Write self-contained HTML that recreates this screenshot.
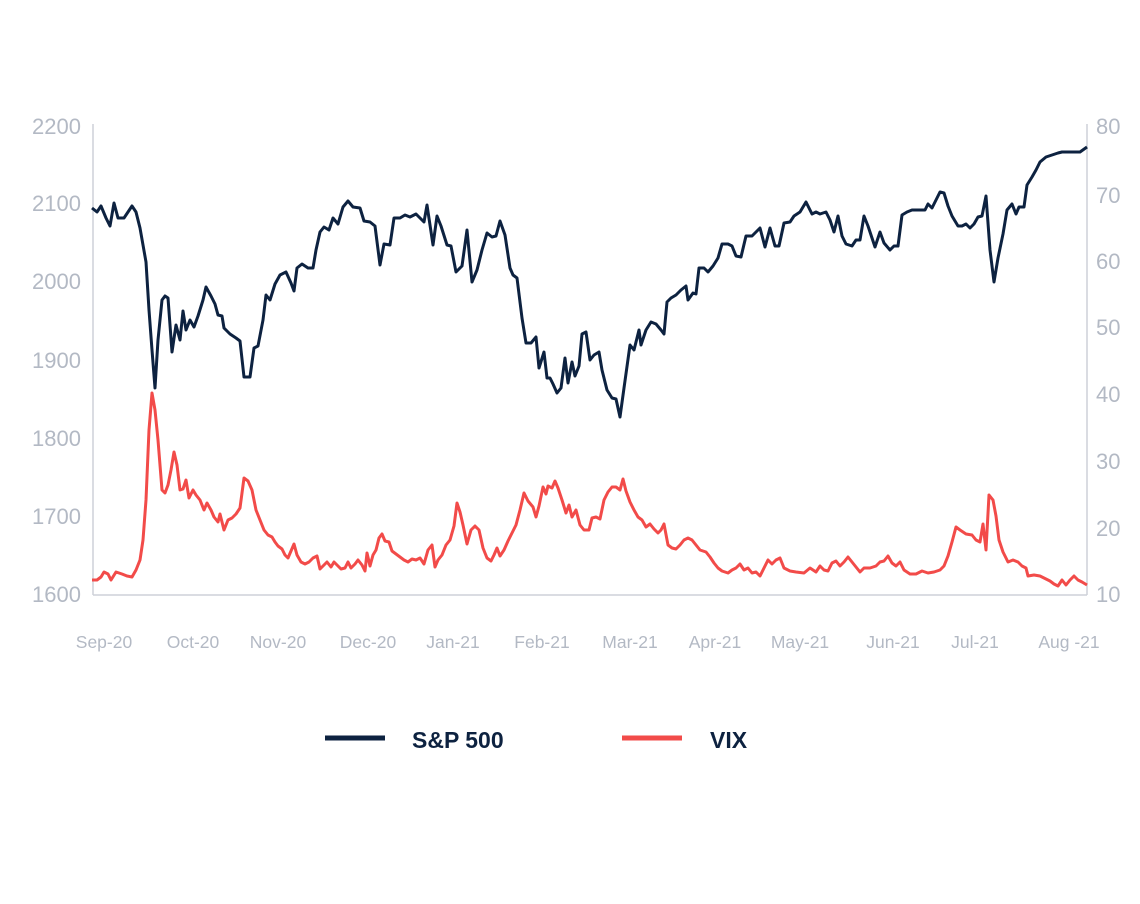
<!DOCTYPE html>
<html><head><meta charset="utf-8"><style>
html,body{margin:0;padding:0;background:#fff;}
svg{display:block;}
text{font-family:"Liberation Sans",sans-serif;fill:#b3b9c4;}
</style></head><body>
<svg width="1140" height="904" viewBox="0 0 1140 904" xmlns="http://www.w3.org/2000/svg">
<rect width="1140" height="904" fill="#fff"/>
<g stroke="#cdd1d8" stroke-width="1.5" fill="none">
<line x1="93" y1="124" x2="93" y2="595"/>
<line x1="93" y1="595" x2="1087" y2="595"/>
<line x1="1087" y1="124" x2="1087" y2="595"/>
</g>
<g font-size="22" text-anchor="end">
<text x="81" y="134">2200</text><text x="81" y="211">2100</text><text x="81" y="289">2000</text>
<text x="81" y="368">1900</text><text x="81" y="446">1800</text><text x="81" y="524">1700</text><text x="81" y="602">1600</text>
</g>
<g font-size="22" text-anchor="start">
<text x="1096" y="134">80</text><text x="1096" y="203">70</text><text x="1096" y="269">60</text><text x="1096" y="335">50</text>
<text x="1096" y="402">40</text><text x="1096" y="469">30</text><text x="1096" y="536">20</text><text x="1096" y="602">10</text>
</g>
<g font-size="17.5" text-anchor="middle">
<text x="104" y="648">Sep-20</text><text x="193" y="648">Oct-20</text><text x="278" y="648">Nov-20</text>
<text x="368" y="648">Dec-20</text><text x="453" y="648">Jan-21</text><text x="542" y="648">Feb-21</text>
<text x="630" y="648">Mar-21</text><text x="715" y="648">Apr-21</text><text x="800" y="648">May-21</text>
<text x="893" y="648">Jun-21</text><text x="975" y="648">Jul-21</text><text x="1069" y="648">Aug -21</text>
</g>
<polyline fill="none" stroke="#f24b49" stroke-width="3" stroke-linejoin="round" points="92,580 97,580 101,577 104,572 108,574 111,580 116,572 122,574 127,576 132,577 136,570 140,560 143,540 146,500 149,430 152,393 155,410 158,440 162,490 165,493 168,485 171,470 174,452 177,465 180,490 183,489 186,480 189,498 193,490 196,495 200,500 204,510 207,503 211,510 214,517 218,522 220,514 224,530 228,520 232,518 236,514 240,508 244,478 248,481 252,490 256,510 260,520 264,530 268,535 272,537 275,542 278,546 282,549 285,555 288,558 291,551 294,544 297,555 301,562 305,564 309,562 313,558 317,556 320,569 323,566 327,562 331,567 334,562 338,566 341,569 345,568 348,562 351,568 355,564 358,560 362,565 365,571 367,553 370,566 373,555 376,550 379,538 382,534 385,541 389,542 392,551 396,554 400,557 404,560 408,562 412,559 416,560 420,558 424,564 428,550 432,545 435,567 438,560 442,555 446,545 450,540 454,526 457,503 460,512 463,525 467,544 471,530 475,526 479,530 483,548 487,558 491,561 494,555 497,548 500,556 504,550 508,541 512,533 516,525 520,510 524,493 528,501 533,507 536,517 539,506 543,487 546,494 548,486 552,488 555,481 558,488 562,500 566,513 569,505 572,517 576,510 580,525 584,530 589,530 592,518 596,517 600,519 604,500 608,492 612,487 616,487 620,490 623,479 626,491 630,502 634,510 638,517 642,520 646,527 650,524 654,529 658,533 661,530 664,524 668,545 672,548 676,549 680,545 684,540 688,538 692,540 696,545 700,550 706,552 710,557 714,563 718,568 722,571 728,573 732,570 736,568 740,564 744,570 748,568 752,573 756,572 760,576 764,568 768,560 772,564 776,560 780,558 784,568 790,571 796,572 804,573 810,568 816,572 820,566 824,570 828,571 832,563 836,561 840,566 844,562 848,557 852,562 856,567 860,572 864,568 870,568 876,566 880,562 884,561 888,556 892,563 896,566 900,562 904,570 910,574 916,574 922,571 928,573 934,572 940,570 944,566 948,556 952,542 956,527 960,530 966,534 972,535 976,540 980,542 983,524 986,550 989,495 993,500 996,516 999,540 1003,552 1008,562 1013,560 1018,562 1022,566 1026,568 1028,576 1034,575 1040,576 1046,579 1050,581 1054,584 1058,586 1062,580 1066,585 1070,580 1074,576 1078,580 1082,582 1087,585"/>
<polyline fill="none" stroke="#0d2240" stroke-width="3" stroke-linejoin="round" points="92,208 97,212 101,206 106,218 110,226 114,203 118,218 124,218 128,212 132,206 136,212 140,228 143,245 146,262 149,310 152,350 155,388 158,340 162,300 165,296 168,298 172,352 176,325 180,340 183,311 186,330 190,320 194,327 198,316 203,300 206,287 211,296 215,304 218,315 222,316 224,328 230,334 236,338 240,341 244,377 250,377 254,348 258,346 263,320 266,295 270,300 275,284 280,275 286,272 291,283 294,291 297,268 302,264 308,268 313,268 316,250 320,232 324,227 329,230 333,218 338,224 343,207 348,201 353,207 360,208 364,221 370,222 375,226 380,265 384,244 390,245 394,218 400,218 405,215 410,217 416,214 420,218 424,222 427,205 433,245 437,216 441,226 447,245 451,246 456,272 462,266 467,230 472,282 477,270 482,250 487,233 492,237 496,236 500,221 505,235 510,268 513,275 517,278 522,318 526,343 531,343 536,337 539,368 544,352 547,378 550,378 553,384 557,393 561,388 565,358 568,383 572,362 575,376 579,366 582,334 586,332 590,360 594,355 599,352 602,370 607,390 612,398 616,399 620,417 624,388 630,345 634,350 639,330 641,345 646,330 651,322 656,324 661,330 664,334 667,302 671,298 676,295 681,290 686,286 688,300 693,293 696,294 699,268 704,268 708,272 713,266 718,258 722,244 728,244 732,246 736,256 741,257 746,236 752,236 756,232 760,228 765,247 770,228 775,246 779,246 784,223 790,222 794,216 800,212 806,202 812,214 816,212 820,214 826,212 830,220 834,232 838,216 842,236 846,244 852,246 856,240 860,240 864,216 868,226 872,238 875,247 880,232 884,243 890,250 894,246 898,246 902,215 907,212 912,210 920,210 925,210 928,204 932,208 936,200 940,192 944,193 948,206 952,216 958,226 962,226 966,224 970,228 974,224 978,217 982,216 986,196 990,250 994,282 998,258 1003,234 1007,210 1012,204 1016,214 1019,207 1024,207 1027,185 1032,177 1036,170 1040,162 1046,157 1052,155 1058,153 1062,152 1072,152 1080,152 1087,147"/>
<line x1="325" y1="738" x2="385" y2="738" stroke="#0d2240" stroke-width="5"/>
<text x="412" y="748" font-size="23" font-weight="bold" style="fill:#0d2240">S&amp;P 500</text>
<line x1="622" y1="738" x2="682" y2="738" stroke="#f24b49" stroke-width="5"/>
<text x="710" y="748" font-size="23" font-weight="bold" style="fill:#0d2240">VIX</text>
</svg>
</body></html>
